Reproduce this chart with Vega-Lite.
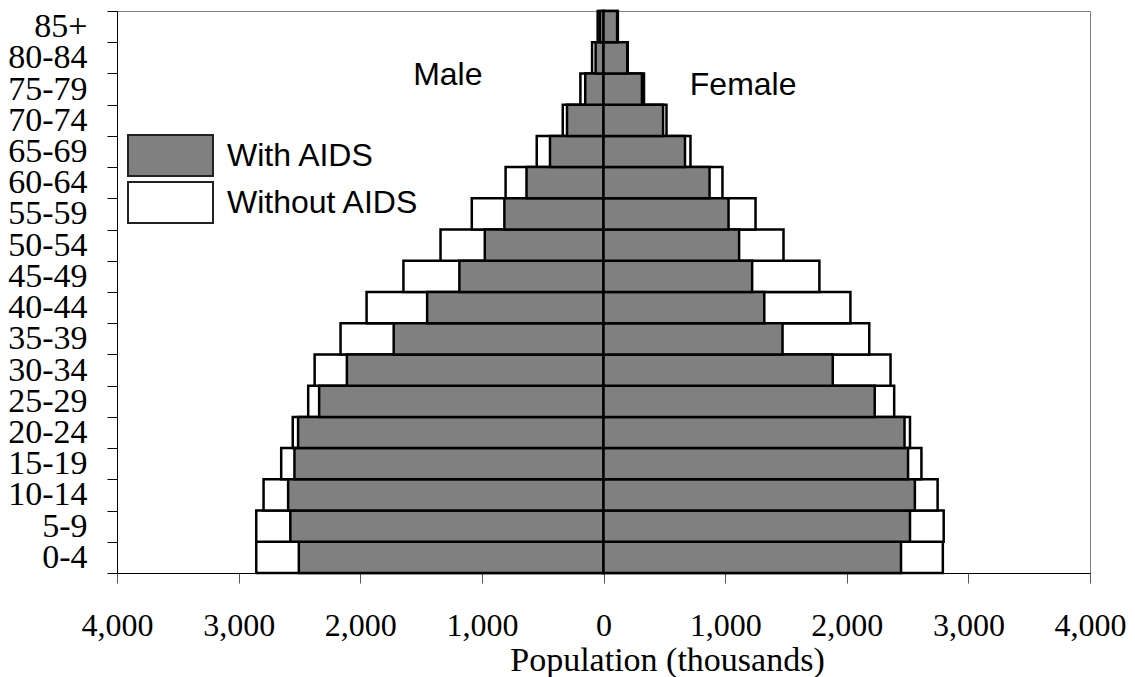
{
  "$schema": "https://vega.github.io/schema/vega-lite/v6.json",
  "width": 973,
  "height": 562,
  "autosize": {"type": "none"},
  "padding": {"left": 117, "top": 11, "right": 45, "bottom": 104},
  "background": "white",
  "config": {
    "view": {"stroke": "#808080", "strokeWidth": 1},
    "axis": {"grid": false, "domainColor": "black", "tickColor": "black", "labelColor": "black", "titleColor": "black"}
  },
  "datasets": {
    "pop": [
      {"age": "0-4", "sex": "Male", "type": "Without AIDS", "population": -2855},
      {"age": "5-9", "sex": "Male", "type": "Without AIDS", "population": -2855},
      {"age": "10-14", "sex": "Male", "type": "Without AIDS", "population": -2795},
      {"age": "15-19", "sex": "Male", "type": "Without AIDS", "population": -2650},
      {"age": "20-24", "sex": "Male", "type": "Without AIDS", "population": -2555},
      {"age": "25-29", "sex": "Male", "type": "Without AIDS", "population": -2428},
      {"age": "30-34", "sex": "Male", "type": "Without AIDS", "population": -2375},
      {"age": "35-39", "sex": "Male", "type": "Without AIDS", "population": -2162},
      {"age": "40-44", "sex": "Male", "type": "Without AIDS", "population": -1948},
      {"age": "45-49", "sex": "Male", "type": "Without AIDS", "population": -1645},
      {"age": "50-54", "sex": "Male", "type": "Without AIDS", "population": -1340},
      {"age": "55-59", "sex": "Male", "type": "Without AIDS", "population": -1083},
      {"age": "60-64", "sex": "Male", "type": "Without AIDS", "population": -805},
      {"age": "65-69", "sex": "Male", "type": "Without AIDS", "population": -549},
      {"age": "70-74", "sex": "Male", "type": "Without AIDS", "population": -335},
      {"age": "75-79", "sex": "Male", "type": "Without AIDS", "population": -190},
      {"age": "80-84", "sex": "Male", "type": "Without AIDS", "population": -94},
      {"age": "85+", "sex": "Male", "type": "Without AIDS", "population": -48},
      {"age": "0-4", "sex": "Female", "type": "Without AIDS", "population": 2790},
      {"age": "5-9", "sex": "Female", "type": "Without AIDS", "population": 2797},
      {"age": "10-14", "sex": "Female", "type": "Without AIDS", "population": 2747},
      {"age": "15-19", "sex": "Female", "type": "Without AIDS", "population": 2614},
      {"age": "20-24", "sex": "Female", "type": "Without AIDS", "population": 2520},
      {"age": "25-29", "sex": "Female", "type": "Without AIDS", "population": 2390},
      {"age": "30-34", "sex": "Female", "type": "Without AIDS", "population": 2360},
      {"age": "35-39", "sex": "Female", "type": "Without AIDS", "population": 2185},
      {"age": "40-44", "sex": "Female", "type": "Without AIDS", "population": 2030},
      {"age": "45-49", "sex": "Female", "type": "Without AIDS", "population": 1775},
      {"age": "50-54", "sex": "Female", "type": "Without AIDS", "population": 1480},
      {"age": "55-59", "sex": "Female", "type": "Without AIDS", "population": 1250},
      {"age": "60-64", "sex": "Female", "type": "Without AIDS", "population": 978},
      {"age": "65-69", "sex": "Female", "type": "Without AIDS", "population": 715},
      {"age": "70-74", "sex": "Female", "type": "Without AIDS", "population": 518},
      {"age": "75-79", "sex": "Female", "type": "Without AIDS", "population": 333},
      {"age": "80-84", "sex": "Female", "type": "Without AIDS", "population": 199},
      {"age": "85+", "sex": "Female", "type": "Without AIDS", "population": 118},
      {"age": "0-4", "sex": "Male", "type": "With AIDS", "population": -2505},
      {"age": "5-9", "sex": "Male", "type": "With AIDS", "population": -2575},
      {"age": "10-14", "sex": "Male", "type": "With AIDS", "population": -2593},
      {"age": "15-19", "sex": "Male", "type": "With AIDS", "population": -2541},
      {"age": "20-24", "sex": "Male", "type": "With AIDS", "population": -2511},
      {"age": "25-29", "sex": "Male", "type": "With AIDS", "population": -2338},
      {"age": "30-34", "sex": "Male", "type": "With AIDS", "population": -2110},
      {"age": "35-39", "sex": "Male", "type": "With AIDS", "population": -1725},
      {"age": "40-44", "sex": "Male", "type": "With AIDS", "population": -1450},
      {"age": "45-49", "sex": "Male", "type": "With AIDS", "population": -1185},
      {"age": "50-54", "sex": "Male", "type": "With AIDS", "population": -976},
      {"age": "55-59", "sex": "Male", "type": "With AIDS", "population": -815},
      {"age": "60-64", "sex": "Male", "type": "With AIDS", "population": -633},
      {"age": "65-69", "sex": "Male", "type": "With AIDS", "population": -440},
      {"age": "70-74", "sex": "Male", "type": "With AIDS", "population": -300},
      {"age": "75-79", "sex": "Male", "type": "With AIDS", "population": -150},
      {"age": "80-84", "sex": "Male", "type": "With AIDS", "population": -65},
      {"age": "85+", "sex": "Male", "type": "With AIDS", "population": -30},
      {"age": "0-4", "sex": "Female", "type": "With AIDS", "population": 2446},
      {"age": "5-9", "sex": "Female", "type": "With AIDS", "population": 2520},
      {"age": "10-14", "sex": "Female", "type": "With AIDS", "population": 2560},
      {"age": "15-19", "sex": "Female", "type": "With AIDS", "population": 2504},
      {"age": "20-24", "sex": "Female", "type": "With AIDS", "population": 2475},
      {"age": "25-29", "sex": "Female", "type": "With AIDS", "population": 2230},
      {"age": "30-34", "sex": "Female", "type": "With AIDS", "population": 1885},
      {"age": "35-39", "sex": "Female", "type": "With AIDS", "population": 1472},
      {"age": "40-44", "sex": "Female", "type": "With AIDS", "population": 1322},
      {"age": "45-49", "sex": "Female", "type": "With AIDS", "population": 1222},
      {"age": "50-54", "sex": "Female", "type": "With AIDS", "population": 1115},
      {"age": "55-59", "sex": "Female", "type": "With AIDS", "population": 1028},
      {"age": "60-64", "sex": "Female", "type": "With AIDS", "population": 872},
      {"age": "65-69", "sex": "Female", "type": "With AIDS", "population": 670},
      {"age": "70-74", "sex": "Female", "type": "With AIDS", "population": 490},
      {"age": "75-79", "sex": "Female", "type": "With AIDS", "population": 316},
      {"age": "80-84", "sex": "Female", "type": "With AIDS", "population": 195},
      {"age": "85+", "sex": "Female", "type": "With AIDS", "population": 112}
    ],
    "maleLabel": [{"label": "Male", "x": -1280, "age": "75-79"}],
    "femaleLabel": [{"label": "Female", "x": 1148, "age": "75-79"}]
  },
  "layer": [
    {
      "data": {"name": "pop"},
      "mark": {"type": "bar", "stroke": "black", "strokeWidth": 2.5},
      "encoding": {
        "y": {
          "field": "age", "type": "nominal",
          "scale": {"domain": ["85+","80-84","75-79","70-74","65-69","60-64","55-59","50-54","45-49","40-44","35-39","30-34","25-29","20-24","15-19","10-14","5-9","0-4"], "paddingInner": 0, "paddingOuter": 0},
          "axis": {"title": null, "tickBand": "extent", "tickSize": 10, "labelPadding": 20, "labelFont": "Liberation Serif", "labelFontSize": 34, "labelBaseline": "middle", "domainColor": "black", "domainWidth": 1}
        },
        "x": {
          "field": "population", "type": "quantitative", "stack": null,
          "scale": {"domain": [-4000, 4000], "nice": false},
          "axis": {
            "values": [-4000, -3000, -2000, -1000, 0, 1000, 2000, 3000, 4000],
            "labelExpr": "format(abs(datum.value), ',')",
            "tickSize": 10, "tickColor": "#555555",
            "labelFont": "Liberation Serif", "labelFontSize": 32, "labelBaseline": "alphabetic", "labelPadding": 52,
            "labelFlush": false, "labelOverlap": false,
            "title": "Population (thousands)", "titleFont": "Liberation Serif", "titleFontSize": 34, "titleFontWeight": "normal",
            "titleX": 550, "titleY": 97, "titleAlign": "center", "titleBaseline": "alphabetic"
          }
        },
        "color": {
          "field": "type", "type": "nominal",
          "scale": {"domain": ["With AIDS", "Without AIDS"], "range": ["#808080", "#ffffff"]},
          "legend": {
            "title": null, "orient": "none", "legendX": 31, "legendY": 122, "padding": 0,
            "symbolType": "M-2,-0.96H2V0.96H-2Z", "symbolSize": 1806,
            "symbolStrokeColor": "#222222", "symbolStrokeWidth": 2, "symbolOpacity": 1,
            "labelFont": "Liberation Sans", "labelFontSize": 32, "labelColor": "black", "labelLimit": 400,
            "labelOffset": 34, "rowPadding": -4
          }
        }
      }
    },
    {
      "mark": {"type": "rule", "color": "black", "strokeWidth": 3},
      "encoding": {"x": {"datum": 0, "type": "quantitative"}}
    },
    {
      "data": {"name": "maleLabel"},
      "mark": {"type": "text", "font": "Liberation Sans", "fontSize": 32, "color": "black", "baseline": "alphabetic", "align": "center"},
      "encoding": {
        "x": {"field": "x", "type": "quantitative"},
        "y": {"field": "age", "type": "nominal", "bandPosition": 0.37},
        "text": {"field": "label"}
      }
    },
    {
      "data": {"name": "femaleLabel"},
      "mark": {"type": "text", "font": "Liberation Sans", "fontSize": 32, "color": "black", "baseline": "alphabetic", "align": "center"},
      "encoding": {
        "x": {"field": "x", "type": "quantitative"},
        "y": {"field": "age", "type": "nominal", "bandPosition": 0.69},
        "text": {"field": "label"}
      }
    }
  ]
}
